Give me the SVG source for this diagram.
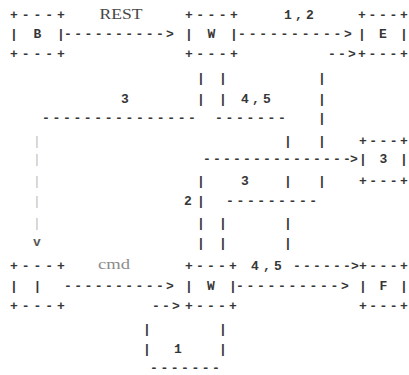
<svg xmlns="http://www.w3.org/2000/svg" width="409" height="375" viewBox="0 0 409 375">
<style>
text{font-family:"Liberation Mono","DejaVu Sans Mono",monospace;font-size:13px;font-weight:bold;fill:#333;text-anchor:middle}
.lbl{font-family:"Liberation Serif","DejaVu Serif",serif;font-size:15px;font-weight:normal;fill:#444;text-anchor:start}
.cmd{fill:#8a8a8a;font-size:14px}
.gr{fill:#bcbcbc;font-weight:normal}
.v{fill:#555}
</style>
<rect width="409" height="375" fill="#ffffff"/>
<g opacity="0.98">
<g id="node-B">
<text x="14 25.75 37.5 49.25 61" y="18.5">+---+</text>
<text x="14 25.75 37.5 49.25 61" y="37.5">| B |</text>
<text x="14 25.75 37.5 49.25 61" y="57.5">+---+</text>
</g>
<g id="node-W-top">
<text x="189 200.25 211.5 222.75 234" y="18.5">+---+</text>
<text x="189 200.25 211.5 222.75 234" y="37.5">| W |</text>
<text x="189 200.25 211.5 222.75 234" y="57.5">+---+</text>
</g>
<g id="node-E">
<text x="362 372.5 383 393.5 404" y="18.5">+---+</text>
<text x="362 372.5 383 393.5 404" y="37.5">| E |</text>
<text x="362 372.5 383 393.5 404" y="57.5">+---+</text>
</g>
<g id="node-3">
<text x="363 373.25 383.5 393.75 404" y="144.5">+---+</text>
<text x="363 373.25 383.5 393.75 404" y="162.5">| 3 |</text>
<text x="363 373.25 383.5 393.75 404" y="184.5">+---+</text>
</g>
<g id="node-empty">
<text x="14 25.75 37.5 49.25 61" y="269.5">+---+</text>
<text x="14 25.75 37.5 49.25 61" y="289.5">|   |</text>
<text x="14 25.75 37.5 49.25 61" y="309.5">+---+</text>
</g>
<g id="node-W-bottom">
<text x="189 200 211 222 233" y="269.5">+---+</text>
<text x="189 200 211 222 233" y="289.5">| W |</text>
<text x="189 200 211 222 233" y="309.5">+---+</text>
</g>
<g id="node-F">
<text x="363 373.25 383.5 393.75 404" y="269.5">+---+</text>
<text x="363 373.25 383.5 393.75 404" y="289.5">| F |</text>
<text x="363 373.25 383.5 393.75 404" y="309.5">+---+</text>
</g>
<g id="connectors">
<text class="lbl" x="99.5" y="19" textLength="43" lengthAdjust="spacingAndGlyphs">REST</text>
<text x="68 78.2 88.4 98.6 108.8 119 129.2 139.4 149.6 159.8 170 178" y="37.5">----------&gt;</text>
<text x="288 299 310" y="18.5">1,2</text>
<text x="242 252.6 263.2 273.8 284.4 295 305.6 316.2 326.8 337.4 348 355" y="37.5">----------&gt;</text>
<text x="332 342 352" y="57.5">--&gt;</text>
<text x="201 223 322" y="81.5">|||</text>
<text x="125" y="102.5">3</text>
<text x="201 223" y="102.5">||</text>
<text x="245 256 267" y="102.5">4,5</text>
<text x="322" y="102.5">|</text>
<text x="46 56.4 66.9 77.3 87.7 98.1 108.6 119 129.4 139.9 150.3 160.7 171.1 181.6 192" y="121.5">---------------</text>
<text x="219 229.5 240 250.5 261 271.5 282" y="121.5">-------</text>
<text x="322" y="121.5">|</text>
<text class="gr" x="37" y="144.5">|</text>
<text class="gr" x="37" y="162.5">|</text>
<text class="gr" x="37" y="184.5">|</text>
<text class="gr" x="37" y="204.5">|</text>
<text class="gr" x="37" y="226.5">|</text>
<text class="v" x="37" y="245.5">v</text>
<text x="288 322" y="144.5">||</text>
<text x="207 217 227 237 247 257 267 277 287 297 307 317 327 337 347 354" y="162.5">---------------&gt;</text>
<text x="201" y="184.5">|</text>
<text x="245" y="184.5">3</text>
<text x="288 322" y="184.5">||</text>
<text x="188 201" y="204.5">2|</text>
<text x="230 240.4 250.8 261.2 271.6 282 292.4 302.8 313.2" y="204.5">---------</text>
<text x="201 223 288" y="226.5">|||</text>
<text x="201 223 288" y="246.5">|||</text>
<text class="lbl cmd" x="98" y="269" textLength="32" lengthAdjust="spacingAndGlyphs">cmd</text>
<text x="68 78.2 88.4 98.6 108.8 119 129.2 139.4 149.6 159.8 170 178" y="289.5">----------&gt;</text>
<text x="255 267 278" y="269.5">4,5</text>
<text x="297 307 317 327 337 347 355" y="269.5">------&gt;</text>
<text x="240 250.5 261 271.5 282 292.5 303 313.5 324 334.5 345 353" y="289.5">----------&gt;</text>
<text x="156 166 176" y="309.5">--&gt;</text>
<text x="147 223" y="332.5">||</text>
<text x="147 178 223" y="352.5">|1|</text>
<text x="154 164.3 174.7 185 195.3 205.7 216" y="371.5">-------</text>
</g>
</g>
</svg>
